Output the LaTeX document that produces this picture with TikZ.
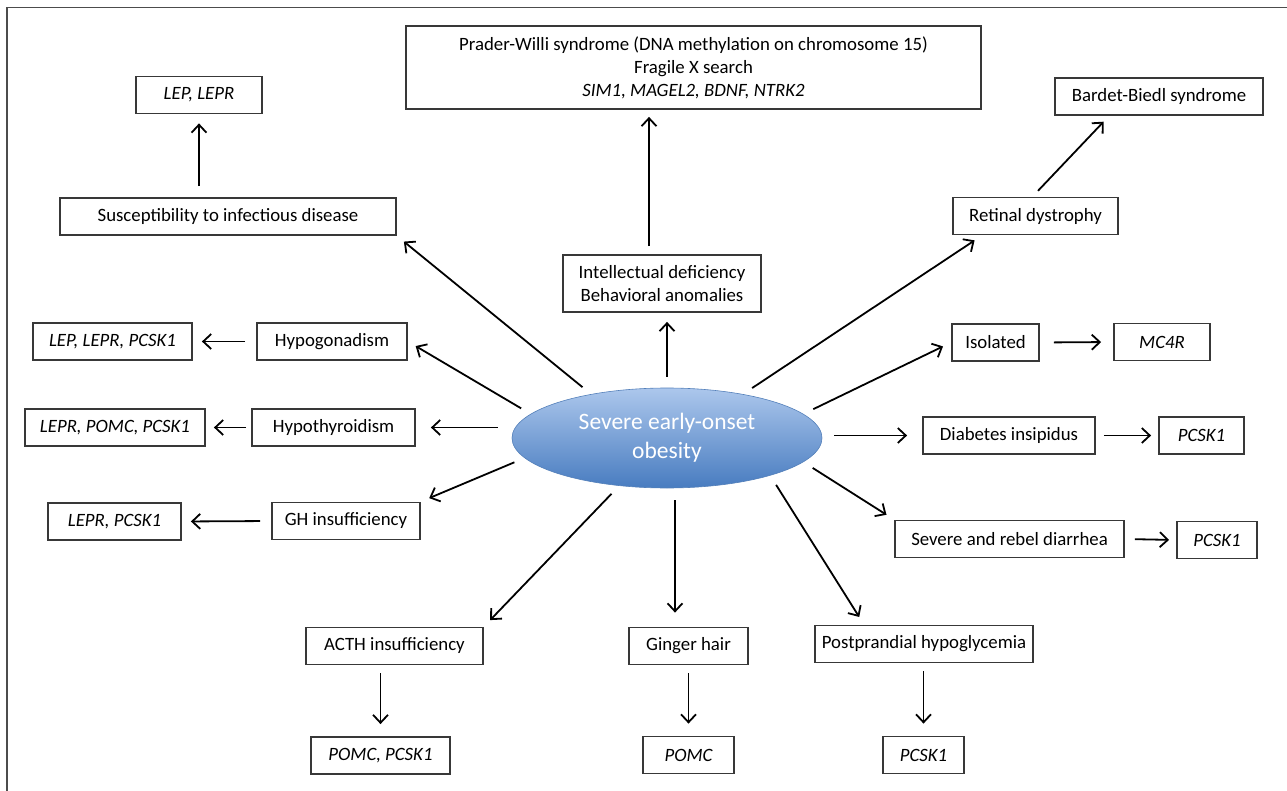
\documentclass[tikz,border=0pt]{standalone}
\usepackage{fontspec}
\setmainfont{Carlito}
\usetikzlibrary{shapes,arrows.meta}
\definecolor{hubtop}{RGB}{172,199,236}
\definecolor{hubbot}{RGB}{72,124,192}
\definecolor{hubline}{RGB}{84,128,186}

\begin{document}
\begin{tikzpicture}[x=1pt,y=-1pt,
      every node/.style={font=\fontsize{18.8}{23}\selectfont},
      box/.style={draw=black!78,line width=1.8pt,fill=white,minimum height=37pt,inner xsep=2pt,align=center},
      gene/.style={box,font=\fontsize{18.8}{23}\selectfont\itshape},
      hub/.style={ellipse,draw=hubline,line width=0.6pt,top color=hubtop,bottom color=hubbot,text=white,
        minimum width=310pt,minimum height=100pt,align=center,font=\fontsize{23.5}{29}\selectfont},
      arr/.style={-{Straight Barb[length=8pt,width=15pt]},line width=1.8pt,shorten <=11pt,shorten >=9pt}]
    \useasboundingbox (0,0) rectangle (1287,791);
    \draw[line width=1.8pt,black!70] (7,791) -- (7,7.5) -- (1287,7.5);

    \node[hub] (obes) at (667,438) {Severe early-onset\\obesity};

    \node[gene,minimum width=126pt] (lep) at (199,95) {LEP, LEPR};
    \node[box,minimum width=336pt] (susc) at (228,216.5) {Susceptibility to infectious disease};
    \node[box,minimum width=575pt,minimum height=83pt] (pws) at (693.5,67.5)
      {Prader-Willi syndrome (DNA methylation on chromosome 15)\\Fragile X search\\\textit{SIM1, MAGEL2, BDNF, NTRK2}};
    \node[box,minimum width=198pt,minimum height=57pt] (intel) at (662,283.5)
      {Intellectual deficiency\\Behavioral anomalies};
    \node[box,minimum width=208pt] (bbs) at (1159,96.5) {Bardet-Biedl syndrome};
    \node[box,minimum width=165pt] (ret) at (1035.5,216) {Retinal dystrophy};
    \node[box,minimum width=87pt] (iso) at (995.5,342.5) {Isolated};
    \node[gene,minimum width=96pt] (mc4r) at (1162,342) {MC4R};
    \node[box,minimum width=172pt] (diab) at (1009,435.5) {Diabetes insipidus};
    \node[gene,minimum width=85pt] (pcskA) at (1201.5,435.5) {PCSK1};
    \node[box,minimum width=229pt] (diar) at (1009.5,539) {Severe and rebel diarrhea};
    \node[gene,minimum width=80pt] (pcskB) at (1217,540) {PCSK1};
    \node[box,minimum width=218pt] (post) at (924,644) {Postprandial hypoglycemia};
    \node[gene,minimum width=81pt] (pcskC) at (923.5,755) {PCSK1};
    \node[box,minimum width=119pt] (ging) at (688.5,646) {Ginger hair};
    \node[gene,minimum width=91pt] (pomc) at (688.5,755) {POMC};
    \node[box,minimum width=177pt] (acth) at (394.5,646) {ACTH insufficiency};
    \node[gene,minimum width=139pt] (pomcB) at (380.5,755.5) {POMC, PCSK1};
    \node[box,minimum width=148pt] (gh) at (346,521) {GH insufficiency};
    \node[gene,minimum width=133pt] (leprB) at (114.5,521.5) {LEPR, PCSK1};
    \node[box,minimum width=163pt] (hypot) at (333.5,427.5) {Hypothyroidism};
    \node[gene,minimum width=180pt] (leprA) at (115,427.5) {LEPR, POMC, PCSK1};
    \node[box,minimum width=150pt] (hypog) at (332,341.5) {Hypogonadism};
    \node[gene,minimum width=159pt] (lepA) at (112.5,341.5) {LEP, LEPR, PCSK1};

    \draw[arr] (obes.150) -- (susc.south east);
    \draw[arr] (obes.170) -- (hypog.east);
    \draw[arr,shorten <=14pt,shorten >=15pt] (obes.west |- hypot.east) -- (hypot.east);
    \draw[arr] (obes.188) -- (gh.north east);
    \draw[arr] (obes.225) -- (acth.north east);
    \draw[arr,shorten <=12pt,shorten >=14pt] ([xshift=8pt]obes.south) -- ([xshift=8pt]obes.south |- ging.north);
    \draw[arr] (obes.-20) -- ([xshift=-60pt]post.north);
    \draw[arr] (obes.-10) -- (diar.north west);
    \draw[arr,shorten <=12pt,shorten >=15pt] (obes.east |- diab.west) -- (diab.west);
    \draw[arr] (obes.10) -- (iso.west);
    \draw[arr] (obes.30) -- ([xshift=30pt]ret.south west);
    \draw[arr] (obes.north) -- (obes.north |- intel.south);

    \draw[arr,shorten <=8pt,shorten >=7pt] ([xshift=-13pt]intel.north) -- ([xshift=-13pt]intel.north |- pws.south);
    \draw[arr] (lep.south |- susc.north) -- (lep.south);
    \draw[arr,shorten <=8pt,shorten >=8pt] ([xshift=-3pt]ret.north) -- ([xshift=55pt]bbs.south west);
    \draw[arr] (hypog.west) -- (lepA.east);
    \draw[arr,shorten <=5pt,shorten >=8pt] (hypot.west) -- (leprA.east);
    \draw[arr] (gh.west) -- (leprB.east);
    \draw[arr,shorten <=14pt,shorten >=12pt] (iso.east) -- (mc4r.west);
    \draw[arr,shorten <=8pt,shorten >=7pt] (diab.east) -- (pcskA.west);
    \draw[arr,shorten <=10pt,shorten >=7pt] (diar.east) -- (pcskB.west);
    \draw[arr,shorten <=8pt,shorten >=12pt] (pomcB.north |- acth.south) -- (pomcB.north);
    \draw[arr,shorten <=8pt,shorten >=12pt] (pomc.north |- ging.south) -- (pomc.north);
    \draw[arr,shorten <=8pt,shorten >=12pt] (pcskC.north |- post.south) -- (pcskC.north);
  \end{tikzpicture}
\end{document}
